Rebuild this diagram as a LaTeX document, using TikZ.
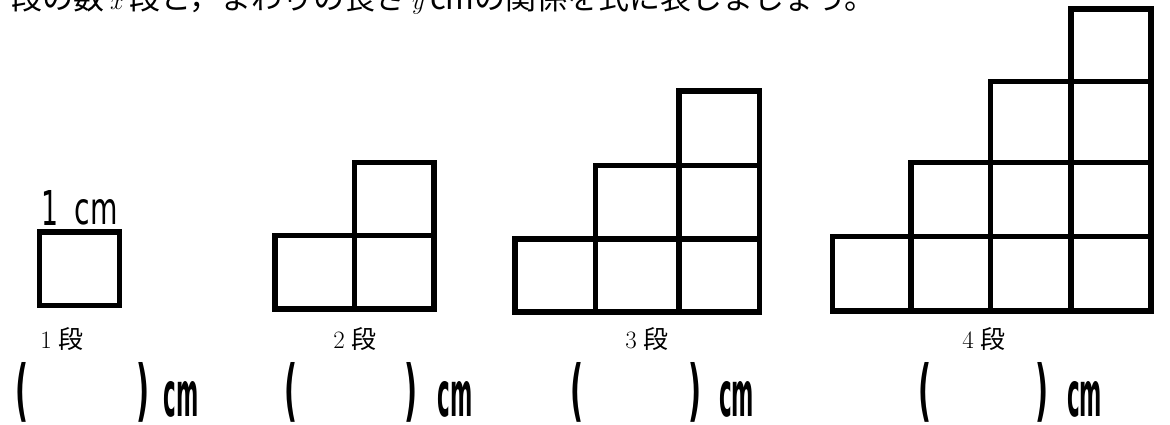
\documentclass[tikz,border=0pt]{standalone}
\usepackage{fontspec}
\newfontfamily\jp{Noto Sans CJK JP}
\newfontfamily\dvs{DejaVu Sans}
\tikzset{
  cellline/.style={draw=black, line width=5.5pt, line join=miter},
  txt/.style={inner sep=0pt, outer sep=0pt},
  lbl/.style={inner sep=0pt, anchor=base, font=\fontsize{25}{25}\selectfont}
}
\newcommand\paren[1]{\resizebox{13pt}{51pt}{\dvs\bfseries #1}}
\newcommand\cmbig{\resizebox{35pt}{35pt}{\dvs\bfseries cm}}
\newcommand\dan[1]{\makebox[25pt]{#1}{\jp 段}}
\begin{document}
\begin{tikzpicture}[x=1pt,y=-1pt]
\useasboundingbox (0,0) rectangle (1170,425);
\clip (0,0) rectangle (1170,425);
\fill[white] (0,0) rectangle (1170,425);
% title (cut off at top)
\node[txt, anchor=base west] (title) at (12,9.5) {\jp\fontsize{31}{31}\selectfont 段の数\,$x$\,段と，まわりの長さ\,$y$\,cmの関係を式に表しましょう。};
% 1 dan
\draw[cellline] (39.5,232) rectangle (119.5,305.5);
\node[txt] (onecm1) at (50,207.5) {\resizebox{17pt}{35pt}{\dvs 1}};
\node[txt] (onecm2) at (96.5,212.5) {\resizebox{43pt}{25pt}{\dvs cm}};
% 2 dan
\draw[cellline] (275,235.5) rectangle (354.5,309);
\draw[cellline] (354.5,235.5) rectangle (434,309);
\draw[cellline] (354.5,162.5) rectangle (434,235.5);
% 3 dan
\draw[cellline] (515,239) rectangle (595.5,312);
\draw[cellline] (595.5,239) rectangle (679,312);
\draw[cellline] (679,239) rectangle (759.5,312);
\draw[cellline] (595.5,165.5) rectangle (679,239);
\draw[cellline] (679,165.5) rectangle (759.5,239);
\draw[cellline] (679,91) rectangle (759.5,165.5);
% 4 dan
\draw[cellline] (832.5,236.5) rectangle (911,311);
\draw[cellline] (911,236.5) rectangle (990.5,311);
\draw[cellline] (990.5,236.5) rectangle (1071,311);
\draw[cellline] (1071,236.5) rectangle (1151,311);
\draw[cellline] (911,162.5) rectangle (990.5,236.5);
\draw[cellline] (990.5,162.5) rectangle (1071,236.5);
\draw[cellline] (1071,162.5) rectangle (1151,236.5);
\draw[cellline] (990.5,81.5) rectangle (1071,162.5);
\draw[cellline] (1071,81.5) rectangle (1151,162.5);
\draw[cellline] (1071,9) rectangle (1151,81.5);
% labels
\node[lbl] (l1) at (58.5,348) {\dan{1}};
\node[lbl] (l2) at (351.5,348) {\dan{2}};
\node[lbl] (l3) at (643.5,348) {\dan{3}};
\node[lbl] (l4) at (980.5,348) {\dan{4}};
% answer blanks
\node[txt] (a1l) at (21.5,392.5) {\paren{(}};
\node[txt] (a1r) at (142.5,392.5) {\paren{)}};
\node[txt] (a1c) at (181,399.5) {\cmbig};
\node[txt] (a2l) at (291,392.5) {\paren{(}};
\node[txt] (a2r) at (411,392.5) {\paren{)}};
\node[txt] (a2c) at (455,399.5) {\cmbig};
\node[txt] (a3l) at (576.5,392.5) {\paren{(}};
\node[txt] (a3r) at (695,392.5) {\paren{)}};
\node[txt] (a3c) at (736.5,399.5) {\cmbig};
\node[txt] (a4l) at (925,392.5) {\paren{(}};
\node[txt] (a4r) at (1041.5,392.5) {\paren{)}};
\node[txt] (a4c) at (1084.5,399.5) {\cmbig};
\end{tikzpicture}
\end{document}
